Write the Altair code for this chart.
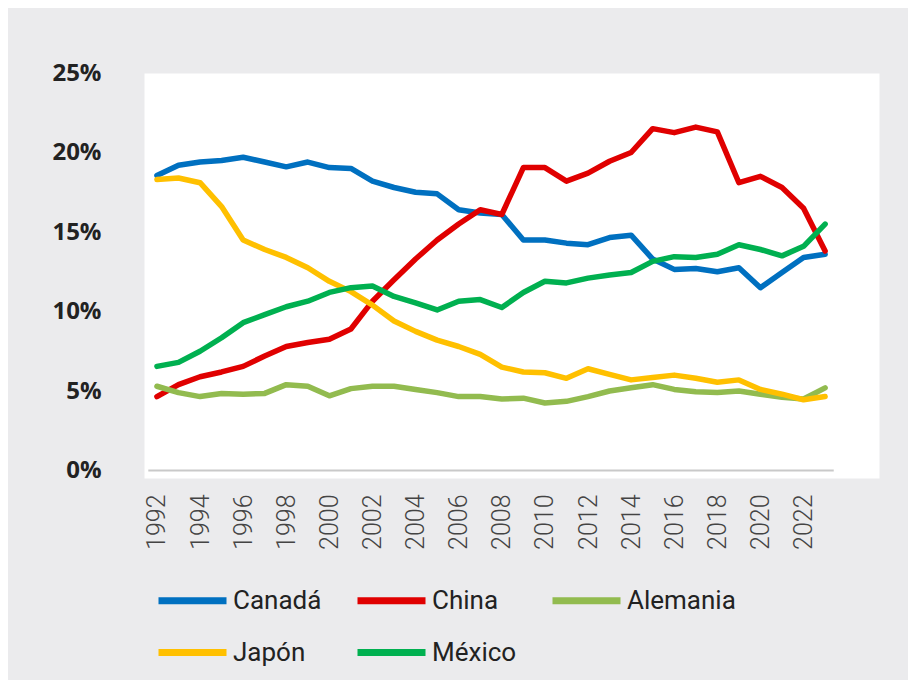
import altair as alt
import pandas as pd

years = list(range(1992, 2024))
countries = ["Canadá", "China", "Alemania", "Japón", "México"]
colors = ["#0070c0", "#e00000", "#92bb4f", "#ffc000", "#00b050"]

canada = [18.55, 19.2, 19.4, 19.5, 19.7, 19.4, 19.1, 19.4, 19.05, 19.0, 18.2, 17.8, 17.5, 17.4, 16.4, 16.2,
          16.1, 14.5, 14.5, 14.3, 14.2, 14.65, 14.8, 13.3, 12.65, 12.7, 12.5, 12.75, 11.5, 12.45, 13.4, 13.6]
china = [4.65, 5.4, 5.9, 6.2, 6.55, 7.2, 7.8, 8.05, 8.25, 8.9, 10.65, 12.0, 13.3, 14.5, 15.5, 16.4,
         16.1, 19.05, 19.05, 18.2, 18.7, 19.45, 20.0, 21.5, 21.25, 21.6, 21.3, 18.1, 18.5, 17.8, 16.5, 13.8]
alemania = [5.3, 4.9, 4.65, 4.85, 4.8, 4.85, 5.4, 5.3, 4.7, 5.15, 5.3, 5.3, 5.1, 4.9, 4.65, 4.65,
            4.5, 4.55, 4.25, 4.35, 4.65, 5.0, 5.2, 5.4, 5.1, 4.95, 4.9, 5.0, 4.8, 4.6, 4.5, 5.2]
japon = [18.3, 18.4, 18.1, 16.6, 14.5, 13.9, 13.4, 12.75, 11.9, 11.25, 10.4, 9.4, 8.75, 8.2, 7.8, 7.3,
         6.5, 6.2, 6.15, 5.8, 6.4, 6.05, 5.7, 5.85, 6.0, 5.8, 5.55, 5.7, 5.1, 4.8, 4.45, 4.65]
mexico = [6.55, 6.8, 7.5, 8.35, 9.3, 9.8, 10.3, 10.65, 11.2, 11.5, 11.6, 10.95, 10.55, 10.1, 10.65, 10.75,
          10.25, 11.2, 11.9, 11.8, 12.1, 12.3, 12.45, 13.15, 13.45, 13.4, 13.6, 14.2, 13.9, 13.5, 14.1, 15.5]

x_ticks = list(range(1992, 2023, 2))
y_ticks = [0, 5, 10, 15, 20, 25]

series = {"Canadá": canada, "China": china, "Alemania": alemania, "Japón": japon, "México": mexico}
rows = []
for name, vals in series.items():
    for yr, v in zip(years, vals):
        rows.append({"year": yr, "pais": name, "valor": v})
df = pd.DataFrame(rows)

base_rule = pd.DataFrame({"x": [1991.6], "x2": [2023.4], "y": [0]})

xscale = alt.Scale(domain=[1991.4, 2025.5], nice=False, zero=False)
yscale = alt.Scale(domain=[-0.47, 25], nice=False, zero=False)

rule = alt.Chart(base_rule).mark_rule(color="#c9c9c9", strokeWidth=2).encode(
    x=alt.X("x:Q", scale=xscale),
    x2="x2:Q",
    y=alt.Y("y:Q", scale=yscale),
)

lines = alt.Chart(df).mark_line(strokeWidth=5.5, strokeJoin="round", strokeCap="round").encode(
    x=alt.X("year:Q", scale=xscale, title=None,
            axis=alt.Axis(values=x_ticks, format="d", labelAngle=270, labelPadding=16,
                          labelFont="Roboto", labelFontWeight=300, labelFontSize=25,
                          labelColor="#444444", ticks=False, domain=False, grid=False,
                          labelOverlap=False, labelFlush=False)),
    y=alt.Y("valor:Q", scale=yscale, title=None,
            axis=alt.Axis(values=y_ticks, labelExpr="datum.value + '%'", labelPadding=43,
                          labelFont="Open Sans", labelFontWeight="bold", labelFontSize=24,
                          labelColor="#222222", ticks=False, domain=False, grid=False,
                          minExtent=136, maxExtent=136, labelOverlap=False, labelFlush=False)),
    color=alt.Color("pais:N", sort=countries,
                    scale=alt.Scale(domain=countries, range=colors),
                    legend=alt.Legend(title=None, orient="none", legendX=11, legendY=490,
                                      direction="horizontal",
                                      columns=3, symbolType="stroke", symbolSize=4624,
                                      symbolStrokeWidth=7, labelFont="Roboto",
                                      labelFontSize=26, labelColor="#222222",
                                      labelOffset=3, columnPadding=21, rowPadding=-15)),
    order=alt.Order("year:Q"),
)

chart = alt.layer(rule, lines).properties(
    width=735, height=405,
    background="#ebebed",
    padding={"left": 136, "top": 65, "right": 29, "bottom": 202},
    autosize=alt.AutoSizeParams(type="none"),
).configure_view(fill="white", stroke="transparent")

chart.save("out.html", embed_options={"renderer": "svg", "actions": False})
